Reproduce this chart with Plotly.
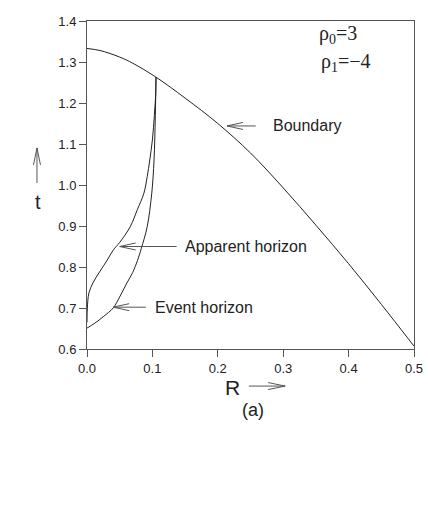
import numpy as np
import plotly.graph_objects as go

# boundary of the collapsing cloud
boundary_R = [0.0, 0.02, 0.05, 0.07, 0.1055, 0.15, 0.2, 0.25, 0.3, 0.35, 0.4, 0.45, 0.5]
boundary_t = [1.333, 1.328, 1.312, 1.297, 1.263, 1.212, 1.150, 1.078, 0.993, 0.902, 0.808, 0.709, 0.607]

# apparent horizon (left curve)
apparent_R = [0.0, 0.0005, 0.003, 0.009, 0.02, 0.031, 0.040, 0.05, 0.066, 0.077, 0.087, 0.092,
              0.096, 0.100, 0.103, 0.105, 0.1055]
apparent_t = [0.665, 0.70, 0.737, 0.761, 0.79, 0.817, 0.841, 0.86, 0.898, 0.94, 0.98, 1.02,
              1.061, 1.11, 1.17, 1.22, 1.263]

# event horizon (right curve)
event_R = [0.0, 0.012, 0.025, 0.04, 0.05, 0.061, 0.070, 0.077, 0.083, 0.092, 0.099, 0.1025, 0.1045, 0.1055]
event_t = [0.651, 0.663, 0.679, 0.70, 0.727, 0.761, 0.787, 0.815, 0.845, 0.898, 0.98, 1.061, 1.17, 1.263]

x_ticks = [0.0, 0.1, 0.2, 0.3, 0.4, 0.5]
y_ticks = [0.6, 0.7, 0.8, 0.9, 1.0, 1.1, 1.2, 1.3, 1.4]

LINE = '#222222'
ARROW = '#555555'
SANS = 'Liberation Sans, Arial, sans-serif'
SERIF = 'Liberation Serif, Times New Roman, serif'

# pixels per unit (plot area 327 x 328 px)
SX_DATA, SY_DATA = 327 / 0.5, 328 / 0.8
SX_PAPER, SY_PAPER = 327, 328


def open_arrow(x0, y0, x1, y1, ref, sx, sy, head_len=16, head_half=3.5):
    """Thin arrow with an open V head, tail (x0,y0) -> tip (x1,y1)."""
    p0 = np.array([x0 * sx, y0 * sy])
    p1 = np.array([x1 * sx, y1 * sy])
    d = (p1 - p0) / np.linalg.norm(p1 - p0)
    n = np.array([-d[1], d[0]])
    h1 = p1 - head_len * d + head_half * n
    h2 = p1 - head_len * d - head_half * n
    pt = lambda p: f'{p[0] / sx},{p[1] / sy}'
    path = f'M {pt(p0)} L {pt(p1)} M {pt(h1)} L {pt(p1)} L {pt(h2)}'
    xr, yr = ('x', 'y') if ref == 'data' else ('paper', 'paper')
    return dict(type='path', path=path, xref=xr, yref=yr,
                line=dict(color=ARROW, width=1))


fig = go.Figure()

for xs, ys in [(boundary_R, boundary_t), (apparent_R, apparent_t), (event_R, event_t)]:
    fig.add_trace(go.Scatter(
        x=xs, y=ys, mode='lines', line=dict(color=LINE, width=1),
        line_shape='spline', showlegend=False, hoverinfo='skip'
    ))

shapes = [
    open_arrow(0.258, 1.144, 0.214, 1.144, 'data', SX_DATA, SY_DATA),
    open_arrow(0.137, 0.850, 0.050, 0.850, 'data', SX_DATA, SY_DATA),
    open_arrow(0.090, 0.702, 0.040, 0.702, 'data', SX_DATA, SY_DATA),
    open_arrow(0.495, -0.113, 0.606, -0.113, 'paper', SX_PAPER, SY_PAPER, head_len=17, head_half=3.5),
    open_arrow(-0.153, 0.506, -0.153, 0.613, 'paper', SX_PAPER, SY_PAPER, head_len=17, head_half=3.5),
]

annotations = [
    dict(x=0.281, y=1.144, xref='x', yref='y', text='Boundary', xanchor='left', yanchor='middle',
         showarrow=False, font=dict(family=SANS, size=16, color=LINE)),
    dict(x=0.147, y=0.851, xref='x', yref='y', text='Apparent horizon', xanchor='left', yanchor='middle',
         showarrow=False, font=dict(family=SANS, size=16, color=LINE)),
    dict(x=0.101, y=0.702, xref='x', yref='y', text='Event horizon', xanchor='left', yanchor='middle',
         showarrow=False, font=dict(family=SANS, size=16, color=LINE)),
    dict(x=0.352, y=1.366, xref='x', yref='y', text='ρ<sub>0</sub>=3', xanchor='left', yanchor='middle',
         showarrow=False, font=dict(family=SERIF, size=20, color=LINE)),
    dict(x=0.355, y=1.298, xref='x', yref='y', text='ρ<sub>1</sub>=−4', xanchor='left', yanchor='middle',
         showarrow=False, font=dict(family=SERIF, size=20, color=LINE)),
    dict(x=0.446, y=-0.116, xref='paper', yref='paper', text='R', xanchor='center', yanchor='middle',
         showarrow=False, font=dict(family=SANS, size=21, color=LINE)),
    dict(x=0.508, y=-0.186, xref='paper', yref='paper', text='(a)', xanchor='center', yanchor='middle',
         showarrow=False, font=dict(family=SANS, size=18, color=LINE)),
    dict(x=-0.15, y=0.448, xref='paper', yref='paper', text='t', xanchor='center', yanchor='middle',
         showarrow=False, font=dict(family=SANS, size=20, color=LINE)),
]

axis_style = dict(
    showline=True, linecolor='#555555', linewidth=1, mirror=True,
    ticks='outside', ticklen=7, tickcolor='#555555', tickwidth=1,
    showgrid=False, zeroline=False, tickformat='.1f', automargin=False,
    tickfont=dict(family=SANS, size=13, color=LINE),
)

fig.update_layout(
    width=428, height=530,
    margin=dict(l=87, r=14, t=21, b=181),
    paper_bgcolor='white', plot_bgcolor='white',
    xaxis=dict(range=[0, 0.5], tickvals=x_ticks, **axis_style),
    yaxis=dict(range=[0.6, 1.4], tickvals=y_ticks, **axis_style),
    shapes=shapes,
    annotations=annotations,
)

# drop the default page margin so the figure fills the window exactly
fig.write_html('out.html', config={'displayModeBar': False},
               post_script="document.body.style.margin='0';"
               "document.body.style.overflow='hidden';")
